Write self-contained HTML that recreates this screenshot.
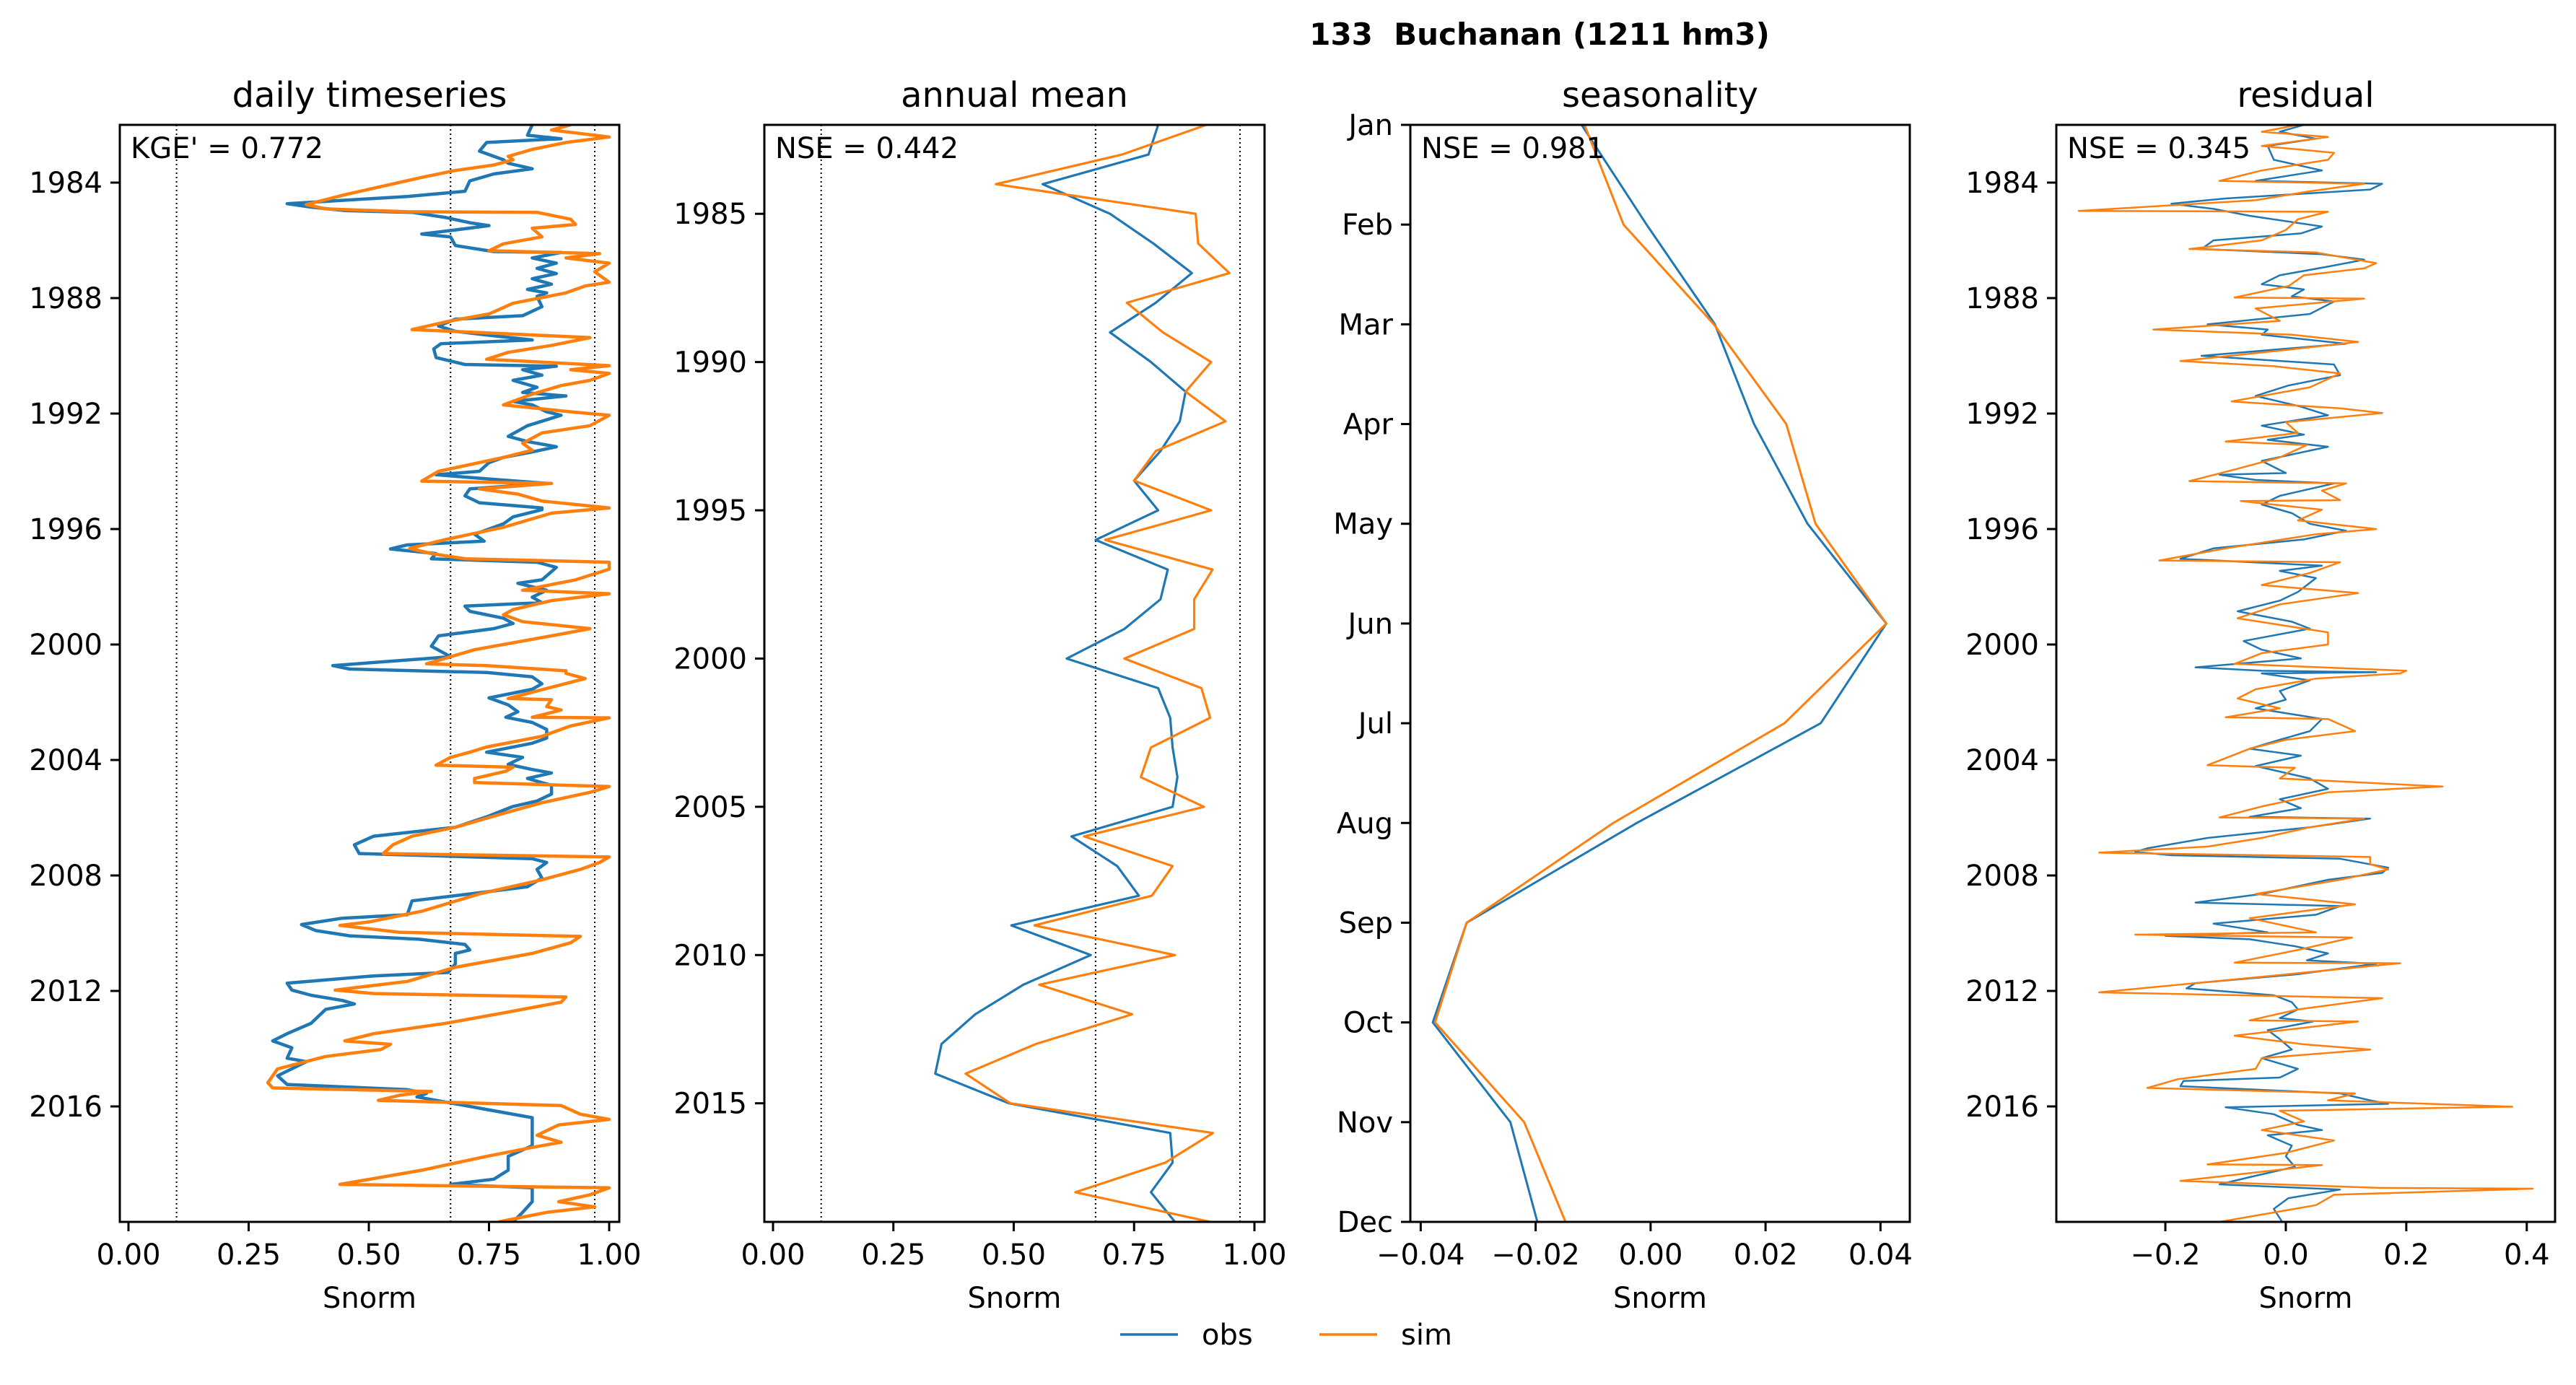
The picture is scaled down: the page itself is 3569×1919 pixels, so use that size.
<!DOCTYPE html>
<html><head><meta charset="utf-8"><style>
html,body{margin:0;padding:0;background:#fff;}
svg{display:block;font-family:"DejaVu Sans","Liberation Sans",sans-serif;}
</style></head><body>
<svg id="fig" width="3569" height="1919" viewBox="0 0 3569 1919" xmlns="http://www.w3.org/2000/svg">
<rect width="3569" height="1919" fill="#fff"/>
<text x="2133" y="62" font-size="42" font-weight="bold" text-anchor="middle" style="white-space:pre">133  Buchanan (1211 hm3)</text>
<g id="legend">
<line x1="1552" y1="1849" x2="1632" y2="1849" stroke="#1f77b4" stroke-width="3.5"/>
<text x="1665" y="1863" font-size="40">obs</text>
<line x1="1828" y1="1849" x2="1908" y2="1849" stroke="#ff7f0e" stroke-width="3.5"/>
<text x="1941" y="1863" font-size="40">sim</text>
</g>
</svg>
<script>
const dailyObs=[[1982.00,.84],[1982.36,.83],[1982.48,.90],[1982.61,.745],[1982.91,.73],[1983.21,.78],[1983.33,.79],[1983.52,.84],[1983.70,.76],[1983.94,.71],[1984.30,.70],[1984.48,.58],[1984.73,.33],[1984.85,.38],[1984.97,.45],[1985.03,.59],[1985.21,.66],[1985.39,.71],[1985.49,.75],[1985.64,.68],[1985.78,.61],[1985.88,.67],[1986.18,.68],[1986.39,.76],[1986.42,.90],[1986.61,.84],[1986.79,.89],[1986.97,.85],[1987.15,.89],[1987.33,.84],[1987.52,.88],[1987.70,.83],[1987.82,.87],[1987.94,.85],[1988.30,.86],[1988.61,.82],[1988.73,.68],[1988.97,.645],[1989.15,.68],[1989.27,.74],[1989.45,.84],[1989.58,.65],[1989.76,.635],[1990.06,.64],[1990.30,.70],[1990.36,.89],[1990.48,.82],[1990.67,.86],[1990.85,.80],[1991.09,.85],[1991.27,.82],[1991.39,.91],[1991.58,.80],[1991.70,.84],[1991.94,.87],[1992.06,.90],[1992.42,.83],[1992.79,.79],[1992.97,.83],[1993.15,.89],[1993.33,.84],[1993.52,.78],[1993.70,.75],[1994.00,.73],[1994.12,.64],[1994.24,.73],[1994.42,.87],[1994.61,.71],[1994.85,.70],[1995.09,.73],[1995.27,.86],[1995.33,.86],[1995.58,.80],[1995.82,.78],[1996.18,.72],[1996.42,.74],[1996.55,.58],[1996.69,.545],[1996.85,.64],[1997.03,.63],[1997.15,.85],[1997.33,.89],[1997.76,.86],[1997.88,.81],[1998.12,.87],[1998.36,.84],[1998.55,.86],[1998.67,.70],[1998.85,.71],[1999.09,.78],[1999.27,.80],[1999.45,.76],[1999.70,.645],[2000.06,.63],[2000.42,.67],[2000.48,.625],[2000.73,.425],[2000.85,.46],[2000.97,.745],[2001.12,.84],[2001.36,.86],[2001.55,.84],[2001.85,.75],[2002.09,.79],[2002.33,.81],[2002.52,.785],[2002.70,.84],[2002.94,.87],[2003.24,.87],[2003.42,.84],[2003.73,.745],[2003.91,.82],[2004.15,.79],[2004.33,.84],[2004.45,.88],[2004.64,.83],[2004.88,.88],[2005.18,.88],[2005.42,.85],[2005.61,.80],[2005.97,.745],[2006.33,.68],[2006.64,.51],[2006.94,.47],[2007.24,.48],[2007.42,.84],[2007.55,.87],[2007.79,.85],[2008.09,.86],[2008.39,.83],[2008.64,.71],[2008.88,.59],[2009.36,.58],[2009.48,.445],[2009.70,.36],[2009.91,.39],[2010.09,.46],[2010.21,.605],[2010.39,.70],[2010.58,.71],[2010.70,.68],[2011.06,.68],[2011.36,.665],[2011.48,.51],[2011.73,.33],[2011.97,.34],[2012.15,.38],[2012.33,.445],[2012.45,.47],[2012.64,.41],[2013.12,.38],[2013.48,.33],[2013.73,.30],[2013.97,.34],[2014.33,.33],[2014.45,.37],[2014.94,.31],[2015.24,.33],[2015.42,.58],[2015.55,.62],[2015.67,.60],[2015.91,.68],[2016.09,.74],[2016.39,.84],[2016.76,.84],[2017.36,.84],[2017.73,.79],[2018.21,.79],[2018.52,.76],[2018.70,.67],[2018.82,.84],[2019.30,.84],[2019.67,.82],[2020.00,.80]];
const dailySim=[[1982.00,.92],[1982.18,.88],[1982.42,1.0],[1982.61,.91],[1982.85,.84],[1983.09,.79],[1983.21,.80],[1983.39,.76],[1983.58,.68],[1983.82,.61],[1984.12,.53],[1984.42,.45],[1984.76,.37],[1984.91,.41],[1985.01,.58],[1985.03,.85],[1985.27,.92],[1985.45,.93],[1985.58,.84],[1985.88,.86],[1986.12,.78],[1986.36,.75],[1986.46,.98],[1986.61,.91],[1986.79,1.0],[1987.09,.97],[1987.45,1.0],[1987.58,.95],[1987.82,.91],[1988.18,.80],[1988.55,.75],[1988.79,.67],[1989.09,.59],[1989.21,.75],[1989.37,.96],[1989.64,.88],[1989.88,.79],[1990.12,.745],[1990.34,1.0],[1990.48,.92],[1990.61,1.0],[1990.85,.96],[1991.03,.90],[1991.33,.84],[1991.70,.78],[1991.94,.92],[1992.06,1.0],[1992.42,.96],[1992.67,.86],[1993.03,.82],[1993.27,.84],[1993.52,.78],[1994.00,.645],[1994.34,.61],[1994.42,.88],[1994.61,.73],[1994.79,.81],[1995.03,.86],[1995.27,1.0],[1995.45,.88],[1995.94,.78],[1996.36,.66],[1996.67,.585],[1996.85,.63],[1997.03,.70],[1997.15,1.0],[1997.39,1.0],[1997.76,.93],[1998.12,.82],[1998.24,1.0],[1998.48,.88],[1998.79,.80],[1998.97,.78],[1999.21,.82],[1999.45,.96],[1999.70,.88],[2000.18,.72],[2000.67,.62],[2000.73,.745],[2000.91,.91],[2001.00,.91],[2001.18,.95],[2001.48,.88],[2001.87,.79],[2001.91,.88],[2002.15,.87],[2002.27,.90],[2002.52,.84],[2002.54,1.0],[2002.82,.92],[2003.18,.86],[2003.55,.745],[2003.73,.71],[2003.91,.67],[2004.18,.64],[2004.25,.80],[2004.39,.785],[2004.64,.72],[2004.78,.72],[2004.92,1.0],[2005.12,.96],[2005.48,.86],[2005.85,.78],[2006.33,.68],[2006.64,.59],[2006.94,.55],[2007.24,.53],[2007.36,1.0],[2007.55,.98],[2007.79,.94],[2008.15,.86],[2008.64,.73],[2009.24,.61],[2009.61,.50],[2009.73,.44],[2009.97,.565],[2010.11,.94],[2010.33,.92],[2010.70,.84],[2011.18,.68],[2011.67,.58],[2011.97,.43],[2012.09,.51],[2012.21,.91],[2012.39,.90],[2012.76,.78],[2013.12,.66],[2013.48,.51],[2013.73,.45],[2013.85,.545],[2014.03,.525],[2014.27,.41],[2014.70,.31],[2015.18,.29],[2015.36,.30],[2015.48,.63],[2015.61,.565],[2015.79,.52],[2015.97,.90],[2016.27,.94],[2016.45,1.0],[2016.64,.895],[2017.00,.85],[2017.24,.90],[2017.42,.84],[2017.73,.745],[2018.21,.61],[2018.70,.44],[2018.82,1.0],[2019.06,.96],[2019.30,.895],[2019.48,.97],[2019.67,.87],[2020.00,.77]];
const annualYears=[1982,1983,1984,1985,1986,1987,1988,1989,1990,1991,1992,1993,1994,1995,1996,1997,1998,1999,2000,2001,2002,2003,2004,2005,2006,2007,2008,2009,2010,2011,2012,2013,2014,2015,2016,2017,2018,2019];
const annualObs=[.80,.78,.56,.70,.79,.87,.795,.70,.785,.857,.845,.805,.75,.80,.67,.82,.805,.73,.61,.80,.825,.83,.84,.83,.62,.715,.76,.495,.66,.52,.42,.35,.337,.49,.825,.83,.785,.835];
const annualSim=[.90,.725,.463,.878,.883,.948,.735,.81,.91,.857,.94,.795,.75,.91,.69,.913,.875,.875,.73,.89,.908,.785,.764,.895,.646,.83,.787,.543,.835,.553,.746,.546,.40,.493,.914,.815,.628,.908];
const months=[1,2,3,4,5,6,7,8,9,10,11,12];
const monthLabels=["Jan","Feb","Mar","Apr","May","Jun","Jul","Aug","Sep","Oct","Nov","Dec"];
const seasObs=[-.012,-.0007,.0112,.018,.0273,.041,.0296,-.0024,-.032,-.0379,-.0244,-.0197];
const seasSim=[-.0115,-.0047,.011,.0236,.0287,.041,.0233,-.0065,-.032,-.0375,-.022,-.0148];
const resObs=[[1982.00,.03],[1982.24,-.01],[1982.48,.05],[1982.73,-.03],[1983.21,-.02],[1983.58,.06],[1983.94,-.05],[1984.04,.16],[1984.24,.14],[1984.55,-.10],[1984.73,-.19],[1984.91,-.12],[1985.15,-.06],[1985.52,.06],[1985.76,.025],[1986.00,-.12],[1986.30,-.14],[1986.48,.06],[1986.67,.13],[1986.91,.07],[1987.21,-.01],[1987.52,-.04],[1987.70,.03],[1987.94,.01],[1988.12,.08],[1988.55,.04],[1988.91,-.13],[1989.09,-.03],[1989.27,-.04],[1989.58,.10],[1990.00,-.14],[1990.30,.08],[1990.67,.09],[1991.03,.004],[1991.39,-.05],[1991.76,.025],[1992.06,.07],[1992.42,-.04],[1992.73,.03],[1992.91,-.03],[1993.15,.07],[1993.64,-.04],[1994.06,0],[1994.12,-.11],[1994.30,-.05],[1994.42,.08],[1994.85,-.01],[1995.15,-.04],[1995.45,.01],[1995.82,.04],[1996.06,.10],[1996.36,.03],[1996.67,-.12],[1997.03,-.175],[1997.27,.06],[1997.45,-.01],[1997.70,.05],[1998.18,.02],[1998.48,-.01],[1998.85,-.08],[1999.21,.01],[1999.45,.04],[1999.88,-.07],[2000.18,-.04],[2000.48,.025],[2000.79,-.15],[2000.91,-.04],[2000.96,.15],[2001.00,-.04],[2001.24,.04],[2001.61,-.01],[2001.91,0],[2002.21,-.05],[2002.58,.06],[2003.00,.04],[2003.30,-.01],[2003.61,-.06],[2003.85,.025],[2004.21,-.05],[2004.64,.04],[2005.00,.07],[2005.36,-.01],[2005.67,.025],[2005.97,-.06],[2006.03,.14],[2006.33,.04],[2006.70,-.13],[2007.06,-.23],[2007.18,-.25],[2007.30,-.19],[2007.42,.09],[2007.73,.17],[2007.91,.16],[2008.15,.07],[2008.64,-.04],[2008.94,-.15],[2009.06,.09],[2009.36,.05],[2009.67,-.12],[2009.97,-.03],[2010.09,-.20],[2010.21,-.06],[2010.45,.015],[2010.70,.07],[2010.94,.035],[2011.06,.15],[2011.42,.02],[2011.73,-.15],[2011.91,-.165],[2012.15,-.02],[2012.39,.01],[2012.64,.02],[2012.94,-.01],[2013.06,.045],[2013.36,-.03],[2013.67,-.01],[2014.03,.01],[2014.33,-.04],[2014.70,.02],[2015.00,-.01],[2015.12,-.17],[2015.30,-.175],[2015.55,.09],[2015.79,.14],[2015.91,.17],[2016.03,-.10],[2016.27,-.02],[2016.64,.02],[2016.82,.06],[2017.00,-.03],[2017.36,.01],[2017.73,0],[2018.09,.015],[2018.45,-.06],[2018.70,-.11],[2018.88,.09],[2019.18,.004],[2019.55,-.02],[2020.00,-.006]];
const resSim=[[1982.00,.02],[1982.24,-.04],[1982.42,.07],[1982.73,-.04],[1982.97,.08],[1983.21,.07],[1983.58,-.04],[1983.94,-.11],[1984.04,.13],[1984.30,.04],[1984.61,-.05],[1984.98,-.344],[1985.01,.07],[1985.27,.02],[1985.64,0],[1986.00,-.04],[1986.30,-.16],[1986.42,.05],[1986.79,.15],[1986.97,.13],[1987.21,.03],[1987.58,.005],[1987.98,-.085],[1988.02,.13],[1988.36,-.05],[1988.79,-.01],[1989.09,-.22],[1989.27,.01],[1989.52,.12],[1989.82,-.01],[1990.18,-.175],[1990.36,-.02],[1990.61,.09],[1991.09,.04],[1991.58,-.09],[1991.82,.09],[1991.98,.16],[1992.30,0],[1992.67,.02],[1992.97,-.10],[1993.09,.035],[1993.52,-.01],[1993.94,-.085],[1994.34,-.16],[1994.42,.10],[1994.67,.06],[1995.00,.09],[1995.03,-.075],[1995.33,.06],[1995.70,.02],[1996.00,.15],[1996.18,.05],[1996.67,-.10],[1997.09,-.21],[1997.15,.09],[1997.52,.04],[1997.94,-.04],[1998.22,.12],[1998.61,-.01],[1999.09,-.08],[1999.58,.07],[2000.00,.07],[2000.30,-.04],[2000.67,-.085],[2000.91,.20],[2001.00,.19],[2001.18,.05],[2001.55,-.05],[2001.87,-.08],[2002.21,-.01],[2002.52,-.10],[2002.58,.07],[2003.00,.115],[2003.30,0],[2003.61,-.06],[2004.18,-.13],[2004.27,.015],[2004.64,-.01],[2004.92,.26],[2005.12,.07],[2005.61,-.04],[2005.99,-.11],[2006.03,.13],[2006.33,.04],[2006.70,-.04],[2007.00,-.13],[2007.21,-.31],[2007.36,.14],[2007.61,.14],[2007.79,.17],[2008.15,.09],[2008.64,-.05],[2009.00,.115],[2009.48,-.06],[2009.97,.05],[2010.05,-.25],[2010.15,.11],[2010.58,.02],[2011.02,-.085],[2011.04,.19],[2011.55,-.06],[2012.05,-.31],[2012.25,.16],[2012.64,.02],[2013.02,-.06],[2013.06,.12],[2013.55,-.085],[2013.85,.03],[2014.03,.14],[2014.33,-.04],[2014.70,-.05],[2015.06,-.18],[2015.36,-.23],[2015.55,.115],[2015.79,.07],[2016.01,.376],[2016.15,-.01],[2016.52,.03],[2016.82,-.04],[2017.18,.08],[2017.61,0],[2018.01,-.13],[2018.03,.06],[2018.58,-.175],[2018.82,.15],[2018.85,.41],[2019.06,.08],[2019.42,.05],[2020.00,-.11]];
const snormTicks=[0,0.25,0.5,0.75,1.0];
const snormTickLabels=["0.00","0.25","0.50","0.75","1.00"];
const dailyYearTicks=[1984,1988,1992,1996,2000,2004,2008,2012,2016];
const annualYearTicks=[1985,1990,1995,2000,2005,2010,2015];
const seasTicks=[-0.04,-0.02,0,0.02,0.04];
const seasTickLabels=["\u22120.04","\u22120.02","0.00","0.02","0.04"];
const resTicks=[-0.2,0,0.2,0.4];
const resTickLabels=["\u22120.2","0.0","0.2","0.4"];
const refLines=[0.1,0.67,0.97];

const NS="http://www.w3.org/2000/svg";
const svg=document.getElementById('fig');
const TOP=173,BOT=1693;
function mk(tag,attrs,parent){const e=document.createElementNS(NS,tag);for(const k in attrs)e.setAttribute(k,attrs[k]);(parent||svg).appendChild(e);return e;}
function panel(id,L,R,xmin,xmax,ymin,ymax,title){
  const g=mk('g',{});
  
  
  const cp=mk('clipPath',{id:'clip-'+id},g);mk('rect',{x:L,y:TOP,width:R-L,height:BOT-TOP},cp);
  const plot=mk('g',{'clip-path':'url(#clip-'+id+')'},g);
  
  
  const t=mk('text',{x:(L+R)/2,y:148,'font-size':48,'text-anchor':'middle'},g);t.textContent=title;
  
  
  const xl=mk('text',{x:(L+R)/2,y:1812,'font-size':40,'text-anchor':'middle'},g);xl.textContent='Snorm';
  
  
  return {g,plot,L,R,sx:v=>L+(v-xmin)/(xmax-xmin)*(R-L),sy:v=>TOP+(v-ymin)/(ymax-ymin)*(BOT-TOP)};
}
function frame(p){const r=mk('rect',{x:p.L,y:TOP,width:p.R-p.L,height:BOT-TOP,fill:'none',stroke:'#000','stroke-width':3},p.g);
  
  }
function xticks(p,vals,labels){vals.forEach((v,i)=>{const x=p.sx(v);mk('line',{x1:x,y1:BOT,x2:x,y2:BOT+13,stroke:'#000','stroke-width':3},p.g);
  const t=mk('text',{x:x,y:1752,'font-size':40,'text-anchor':'middle'},p.g);t.textContent=labels[i];
  
  });}
function yticks(p,vals,labels){vals.forEach((v,i)=>{const y=p.sy(v);mk('line',{x1:p.L-13,y1:y,x2:p.L,y2:y,stroke:'#000','stroke-width':3},p.g);
  const t=mk('text',{x:p.L-24,y:y+14,'font-size':40,'text-anchor':'end'},p.g);t.textContent=labels[i];
  
  });}
function vref(p){refLines.forEach(v=>{const l=mk('line',{x1:p.sx(v),y1:TOP,x2:p.sx(v),y2:BOT,stroke:'#000','stroke-width':2,'stroke-dasharray':'2,4'},p.plot);
  
  });}
function line(p,xs,ys,color,w,name){const pts=xs.map((x,i)=>p.sx(x).toFixed(1)+','+p.sy(ys[i]).toFixed(1)).join(' ');
  const l=mk('polyline',{points:pts,fill:'none',stroke:color,'stroke-width':w,'stroke-linejoin':'round'},p.plot);
  
  }
function note(p,txt){const t=mk('text',{x:p.L+15,y:219,'font-size':40},p.g);t.textContent=txt;
  
  }
const B='#1f77b4',O='#ff7f0e';
const p1=panel('daily',166,858,-0.018,1.021,1982,2020,'daily timeseries');
vref(p1);
line(p1,dailyObs.map(d=>d[1]),dailyObs.map(d=>d[0]),B,4.5,'daily-obs-line');
line(p1,dailySim.map(d=>d[1]),dailySim.map(d=>d[0]),O,4.5,'daily-sim-line');
frame(p1);xticks(p1,snormTicks,snormTickLabels);yticks(p1,dailyYearTicks,dailyYearTicks.map(String));note(p1,"KGE' = 0.772");
const p2=panel('annual',1059,1752,-0.018,1.021,1982,2019,'annual mean');
vref(p2);
line(p2,annualObs,annualYears,B,3.2,'annual-obs-line');
line(p2,annualSim,annualYears,O,3.2,'annual-sim-line');
frame(p2);xticks(p2,snormTicks,snormTickLabels);yticks(p2,annualYearTicks,annualYearTicks.map(String));note(p2,"NSE = 0.442");
const p3=panel('seasonality',1954,2646,-0.0418,0.0451,1,12,'seasonality');
line(p3,seasObs,months,B,3,'seasonality-obs-line');
line(p3,seasSim,months,O,3,'seasonality-sim-line');
frame(p3);xticks(p3,seasTicks,seasTickLabels);yticks(p3,months,monthLabels);note(p3,"NSE = 0.981");
const p4=panel('residual',2849,3540,-0.381,0.447,1982,2020,'residual');
line(p4,resObs.map(d=>d[1]),resObs.map(d=>d[0]),B,2.5,'residual-obs-line');
line(p4,resSim.map(d=>d[1]),resSim.map(d=>d[0]),O,2.5,'residual-sim-line');
frame(p4);xticks(p4,resTicks,resTickLabels);yticks(p4,dailyYearTicks,dailyYearTicks.map(String));note(p4,"NSE = 0.345");
</script>
</body></html>
